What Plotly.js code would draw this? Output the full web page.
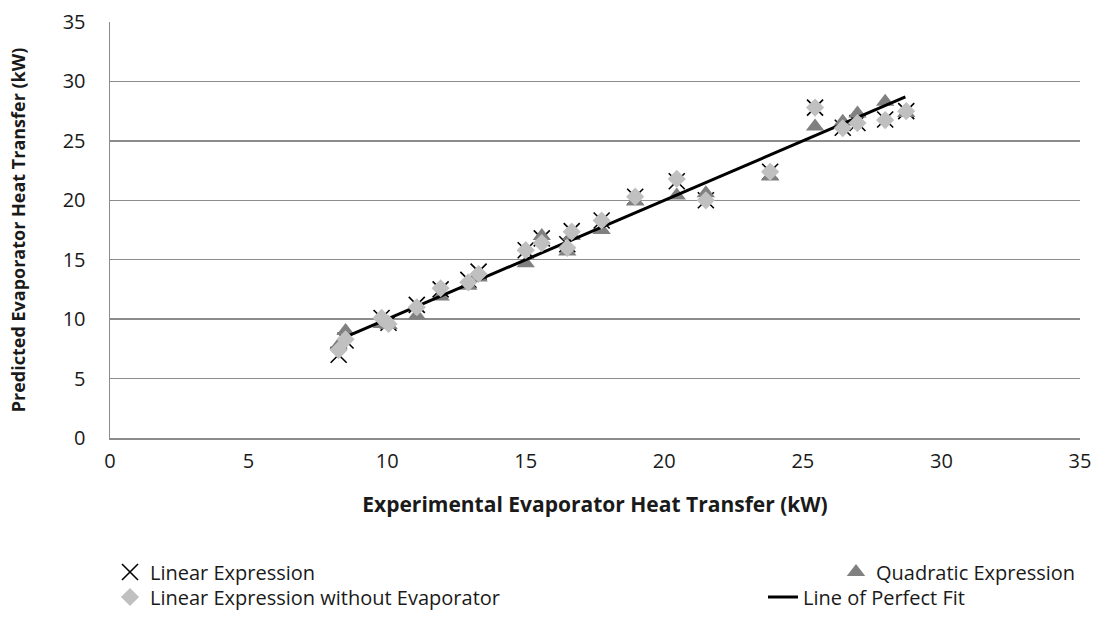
<!DOCTYPE html>
<html>
<head>
<meta charset="utf-8">
<script src="https://cdn.plot.ly/plotly-3.0.1.min.js"></script>
<style>html,body{margin:0;padding:0;background:#fff;}#chart{width:1102px;height:619px;}</style>
</head>
<body>
<div id="chart"></div>
<script>
// Experimental evaporator heat transfer (kW)
const experimental = [8.25, 8.5, 9.8, 10.05, 11.07, 11.93, 12.93, 13.3, 15.0, 15.58, 16.5, 16.66, 17.74, 18.95, 20.45, 21.5, 23.82, 25.44, 26.44, 26.97, 27.97, 28.73];
// Predicted values (kW)
const linearExpr = [7.0, 8.2, 10.1, 9.7, 11.2, 12.5, 13.3, 14.0, 15.8, 16.8, 16.3, 17.4, 18.3, 20.3, 21.6, 20.0, 22.4, 27.8, 26.1, 26.5, 26.8, 27.5];
const quadraticExpr = [7.8, 9.0, 9.6, 9.5, 10.3, 11.9, 12.8, 13.5, 14.7, 17.0, 15.7, 17.0, 17.5, 19.9, 20.4, 20.6, 22.0, 26.2, 26.6, 27.3, 28.3, 27.35];
const linearNoEvap = [7.4, 8.3, 10.1, 9.6, 11.0, 12.6, 13.1, 13.8, 15.8, 16.4, 16.0, 17.36, 18.3, 20.3, 21.8, 20.0, 22.4, 27.8, 26.06, 26.5, 26.75, 27.5];
// Line of perfect fit
const fitX = [8.4, 28.7];
const fitY = [8.4, 28.7];
const xTicks = [0, 5, 10, 15, 20, 25, 30, 35];
const yTicks = [0, 5, 10, 15, 20, 25, 30, 35];

const FONT = '"Open Sans", sans-serif';
const gridCol = '#8c8c8c';
const TXT = '#1a1a1a';

const traces = [
  {x: experimental, y: linearExpr, type: 'scatter', mode: 'markers', name: 'Linear Expression',
   marker: {symbol: 'x-thin-open', size: 16, color: '#000', line: {width: 1.6, color: '#000'}}, legend: 'legend'},
  {x: experimental, y: quadraticExpr, type: 'scatter', mode: 'markers', name: 'Quadratic Expression',
   marker: {symbol: 'triangle-up', size: 16, color: '#808080', line: {width: 0}}, legend: 'legend2'},
  {x: fitX, y: fitY, type: 'scatter', mode: 'lines', name: 'Line of Perfect Fit',
   line: {color: '#000', width: 3}, legend: 'legend4'},
  {x: experimental, y: linearNoEvap, type: 'scatter', mode: 'markers', name: 'Linear Expression without Evaporator',
   marker: {symbol: 'diamond', size: 14, color: '#c0c0c0', line: {width: 0}}, legend: 'legend3'}
];

function leg(xpx, ypx) {
  return {x: (xpx - 110) / 970, y: (438 - ypx) / 416, xanchor: 'left', yanchor: 'middle',
    orientation: 'h', bgcolor: 'rgba(0,0,0,0)', borderwidth: 0,
    font: {family: FONT, size: 20, color: TXT}, itemwidth: 30};
}

const layout = {
  width: 1102, height: 619,
  margin: {l: 110, r: 22, t: 22, b: 181, autoexpand: false},
  paper_bgcolor: '#fff', plot_bgcolor: '#fff',
  font: {family: FONT, size: 20, color: TXT},
  showlegend: true,
  xaxis: {range: [0, 35], tickvals: xTicks, ticktext: xTicks.map(String), showgrid: false, zeroline: false,
    showline: true, linecolor: gridCol, linewidth: 1.5, ticks: '', ticklabelstandoff: 4,
    tickfont: {family: FONT, size: 20, color: TXT},
    title: {text: '<b>Experimental Evaporator Heat Transfer (kW)</b>', font: {family: FONT, size: 21, color: TXT}, standoff: 25},
    fixedrange: true, automargin: false},
  yaxis: {range: [0, 35], tickvals: yTicks, ticktext: yTicks.map(String), showgrid: true, gridcolor: gridCol, gridwidth: 1.5,
    zeroline: false, showline: true, linecolor: gridCol, linewidth: 1.5, ticks: '', ticklabelstandoff: 19,
    tickfont: {family: FONT, size: 20, color: TXT},
    title: {text: '<b>Predicted Evaporator Heat Transfer (kW)</b>', font: {family: FONT, size: 18, color: TXT}, standoff: 32},
    fixedrange: true, automargin: false},
  legend: leg(110, 572),
  legend2: leg(836, 572),
  legend3: leg(110, 597),
  legend4: leg(763, 597)
};

Plotly.newPlot('chart', traces, layout, {displayModeBar: false, staticPlot: true});
</script>
</body>
</html>
